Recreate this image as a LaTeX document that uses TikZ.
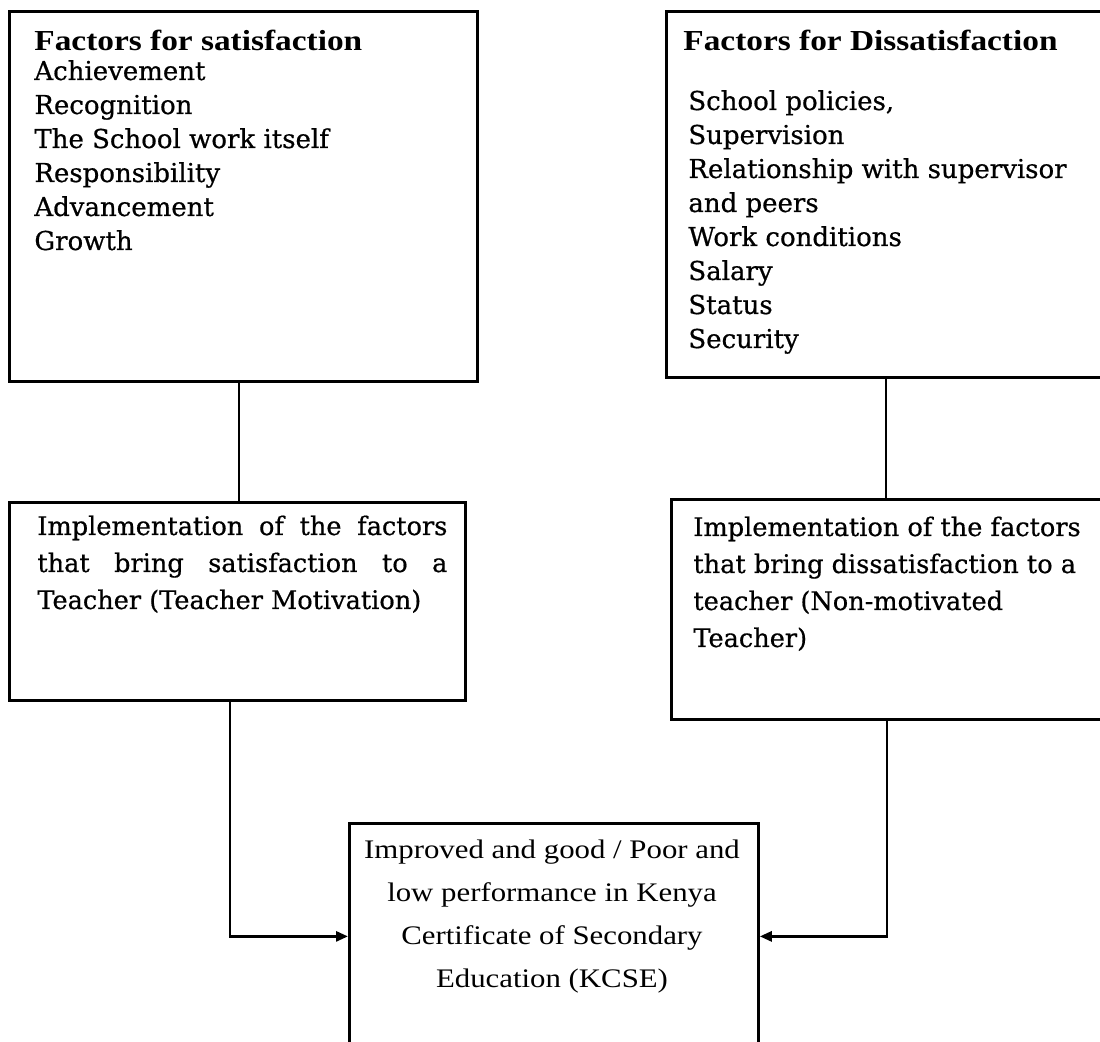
\documentclass[tikz,border=0pt]{standalone}
\usepackage{fontspec}
\setmainfont{Liberation Serif}
\newfontfamily\listfont[FakeBold=0.6]{DejaVu Serif}
\newfontfamily\headfont[FakeStretch=1.15]{Liberation Serif}
\usetikzlibrary{arrows.meta}
\begin{document}
\begin{tikzpicture}[x=0.5pt,y=-0.5pt,
  box/.style={draw, line width=1.4pt, inner sep=0pt, anchor=north west},
  conn/.style={line width=1.4pt},
  tip/.style={-{Triangle[length=6pt,width=5pt]}},
  head/.style={anchor=base west, inner sep=0pt, font=\headfont\bfseries\fontsize{14.5pt}{17pt}\selectfont},
  item/.style={anchor=base west, inner sep=0pt, font=\listfont\fontsize{13pt}{17pt}\selectfont},
  impl/.style={anchor=base west, inner sep=0pt, font=\listfont\fontsize{12.8pt}{21pt}\selectfont},
  res/.style={anchor=base, inner sep=0pt, font=\headfont\fontsize{13.4pt}{21pt}\selectfont}]
\useasboundingbox (0,0) rectangle (1100,1042);
\fill[white] (0,0) rectangle (1100,1042);
\clip (0,0) rectangle (1100,1042);

% boxes
\node[box, minimum width=234pt, minimum height=185pt] (sat) at (8,10) {};
\node[box, minimum width=222pt, minimum height=183pt] (dis) at (665,10) {};
\node[box, minimum width=228pt, minimum height=99pt] (isat) at (8,501) {};
\node[box, minimum width=220pt, minimum height=110pt] (idis) at (670,498) {};
\node[box, minimum width=204.5pt, minimum height=113pt] (kcse) at (348,822) {};

% box 1 text
\node[head] (sath) at (34,51) {Factors for satisfaction};
\node[item] (s1) at (34,80) {Achievement};
\node[item] (s2) at (34,114) {Recognition};
\node[item] (s3) at (34,148) {The School work itself};
\node[item] (s4) at (34,182) {Responsibility};
\node[item] (s5) at (34,216) {Advancement};
\node[item] (s6) at (34,250) {Growth};

% box 2 text
\node[head] (dish) at (683,51) {Factors for Dissatisfaction};
\node[item] (d1) at (688,110) {School policies,};
\node[item] (d2) at (688,144) {Supervision};
\node[item] (d3) at (688,178) {Relationship with supervisor};
\node[item] (d4) at (688,212) {and peers};
\node[item] (d5) at (688,246) {Work conditions};
\node[item] (d6) at (688,280) {Salary};
\node[item] (d7) at (688,314) {Status};
\node[item] (d8) at (688,348) {Security};

% box 3 text
\node[impl] (i1) at (37,535) {\hbox to 205pt{Implementation\hfill of\hfill the\hfill factors}};
\node[impl] (i2) at (37,572) {\hbox to 205pt{that\hfill bring\hfill satisfaction\hfill to\hfill a}};
\node[impl] (i3) at (37,609) {Teacher (Teacher Motivation)};

% box 4 text
\node[impl] (j1) at (693,536) {Implementation of the factors};
\node[impl] (j2) at (693,573) {that bring dissatisfaction to a};
\node[impl] (j3) at (693,610) {teacher (Non-motivated};
\node[impl] (j4) at (693,647) {Teacher)};

% box 5 text
\node[res] (r1) at (552,859) {Improved and good / Poor and};
\node[res] (r2) at (552,902) {low performance in Kenya};
\node[res] (r3) at (552,945) {Certificate of Secondary};
\node[res] (r4) at (552,988) {Education (KCSE)};

% connectors
\coordinate (v1) at (239,0);
\coordinate (v2) at (886,0);
\coordinate (v3) at (230,0);
\coordinate (v4) at (887,0);
\draw[conn] (sat.south -| v1) -- (isat.north -| v1);
\draw[conn] (dis.south -| v2) -- (idis.north -| v2);
\draw[conn, tip] (isat.south -| v3) |- (kcse.west);
\draw[conn, tip] (idis.south -| v4) |- (kcse.east);
\end{tikzpicture}
\end{document}
